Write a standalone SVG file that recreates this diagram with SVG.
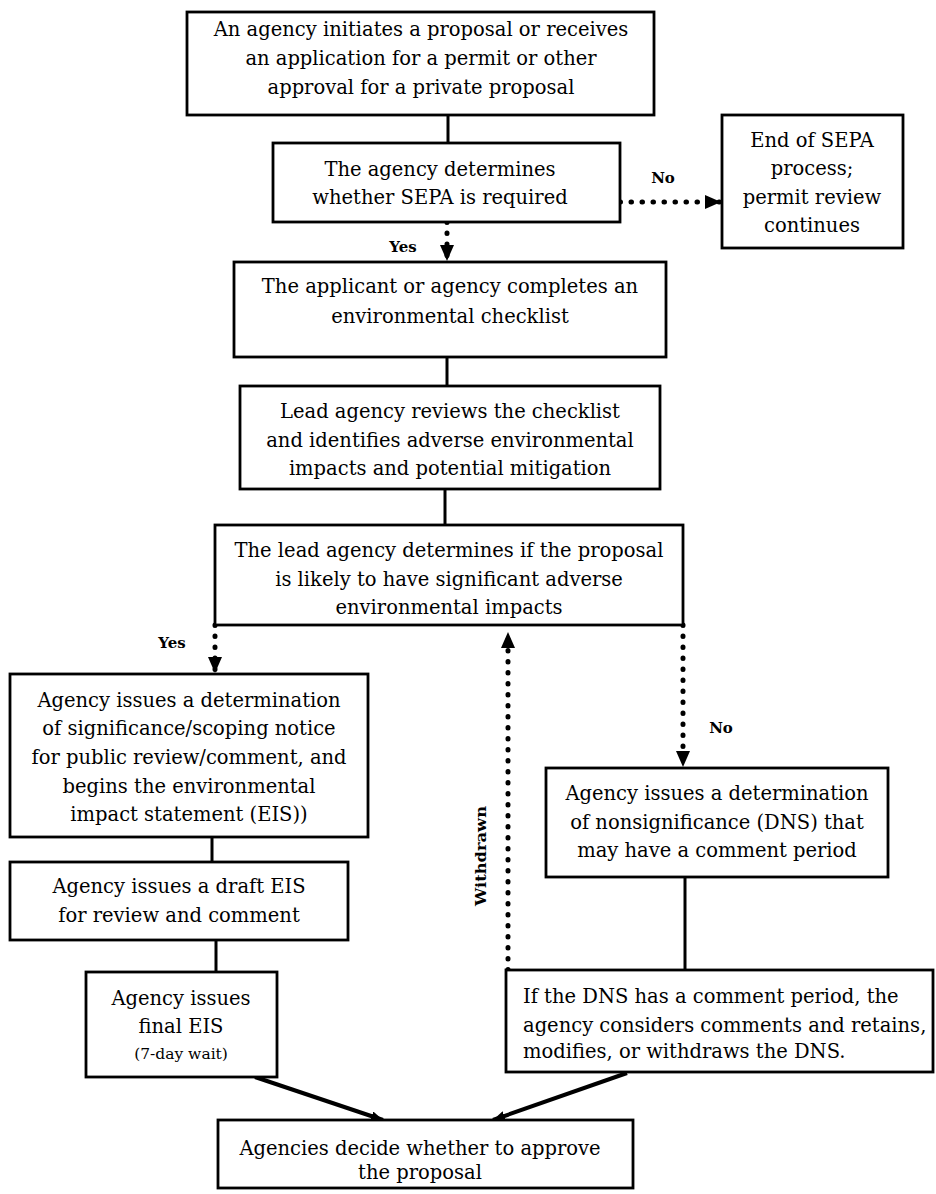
<svg xmlns="http://www.w3.org/2000/svg" width="936" height="1194" viewBox="0 0 936 1194">
<style>
.box{fill:#fff;stroke:#000;stroke-width:2.8}
.t{font-family:"DejaVu Serif","Liberation Serif",serif;font-size:19.5px;fill:#000;text-anchor:middle}
.tl{font-family:"DejaVu Serif","Liberation Serif",serif;font-size:19.5px;fill:#000}
.sm{font-family:"DejaVu Serif","Liberation Serif",serif;font-size:15.5px;fill:#000;text-anchor:middle}
.lab{font-family:"DejaVu Serif","Liberation Serif",serif;font-size:15px;font-weight:bold;fill:#000;text-anchor:middle}
.solid{stroke:#000;stroke-width:3;fill:none}
.dot{stroke:#000;stroke-width:5;stroke-linecap:round;stroke-dasharray:0.5 10.5;fill:none}
.thick{stroke:#000;stroke-width:4;fill:none}
</style>
<defs>
<marker id="arr" viewBox="0 0 16 14" refX="16" refY="7" markerWidth="16" markerHeight="14" orient="auto" markerUnits="userSpaceOnUse"><path d="M0,0 L16,7 L0,14 z" fill="#000"/></marker>
<marker id="arrs" viewBox="0 0 12 10" refX="12" refY="5" markerWidth="12" markerHeight="10" orient="auto" markerUnits="userSpaceOnUse"><path d="M0,0 L12,5 L0,10 z" fill="#000"/></marker>
</defs>
<rect width="936" height="1194" fill="#fff"/>
<g id="connectors">
<line class="solid" x1="448" y1="115" x2="448" y2="143"/>
<line class="dot" x1="620" y1="202" x2="721" y2="202" marker-end="url(#arr)"/>
<line class="dot" x1="447" y1="222" x2="447" y2="261" marker-end="url(#arr)"/>
<line class="solid" x1="447" y1="357" x2="447" y2="386"/>
<line class="solid" x1="445" y1="489" x2="445" y2="525"/>
<line class="dot" x1="215" y1="625" x2="215" y2="673" marker-end="url(#arr)"/>
<line class="dot" x1="683" y1="625" x2="683" y2="767" marker-end="url(#arr)"/>
<line class="dot" x1="508" y1="970" x2="508" y2="632" marker-end="url(#arr)"/>
<line class="solid" x1="685" y1="877" x2="685" y2="970"/>
<line class="solid" x1="212" y1="837" x2="212" y2="862"/>
<line class="solid" x1="216" y1="940" x2="216" y2="972"/>
<line class="thick" x1="255" y1="1077" x2="383" y2="1120" marker-end="url(#arrs)"/>
<line class="thick" x1="627" y1="1073" x2="493" y2="1120" marker-end="url(#arrs)"/>
<text class="lab" x="663" y="183">No</text>
<text class="lab" x="403" y="252">Yes</text>
<text class="lab" x="172" y="648">Yes</text>
<text class="lab" x="721" y="733">No</text>
<text class="lab" transform="translate(486,856) rotate(-90)" x="0" y="0" textLength="100" lengthAdjust="spacingAndGlyphs">Withdrawn</text>
</g>
<g id="n1">
<rect class="box" x="187" y="12" width="467" height="103"/>
<text class="t" x="421" y="36">An agency initiates a proposal or receives</text>
<text class="t" x="421" y="65">an application for a permit or other</text>
<text class="t" x="421" y="94">approval for a private proposal</text>
</g>
<g id="n2">
<rect class="box" x="273" y="143" width="347" height="79"/>
<text class="t" x="440" y="176">The agency determines</text>
<text class="t" x="440" y="204">whether SEPA is required</text>
</g>
<g id="n3">
<rect class="box" x="722" y="115" width="181" height="133"/>
<text class="t" x="812" y="147">End of SEPA</text>
<text class="t" x="812" y="175">process;</text>
<text class="t" x="812" y="204">permit review</text>
<text class="t" x="812" y="232">continues</text>
</g>
<g id="n4">
<rect class="box" x="234" y="262" width="432" height="95"/>
<text class="t" x="450" y="293">The applicant or agency completes an</text>
<text class="t" x="450" y="323">environmental checklist</text>
</g>
<g id="n5">
<rect class="box" x="240" y="386" width="420" height="103"/>
<text class="t" x="450" y="418">Lead agency reviews the checklist</text>
<text class="t" x="450" y="447">and identifies adverse environmental</text>
<text class="t" x="450" y="475">impacts and potential mitigation</text>
</g>
<g id="n6">
<rect class="box" x="215" y="525" width="468" height="100"/>
<text class="t" x="449" y="557">The lead agency determines if the proposal</text>
<text class="t" x="449" y="586">is likely to have significant adverse</text>
<text class="t" x="449" y="614">environmental impacts</text>
</g>
<g id="n7">
<rect class="box" x="10" y="674" width="358" height="163"/>
<text class="t" x="189" y="707">Agency issues a determination</text>
<text class="t" x="189" y="735">of significance/scoping notice</text>
<text class="t" x="189" y="764">for public review/comment, and</text>
<text class="t" x="189" y="793">begins the environmental</text>
<text class="t" x="189" y="821">impact statement (EIS))</text>
</g>
<g id="n8">
<rect class="box" x="546" y="768" width="342" height="109"/>
<text class="t" x="717" y="800">Agency issues a determination</text>
<text class="t" x="717" y="829">of nonsignificance (DNS) that</text>
<text class="t" x="717" y="857">may have a comment period</text>
</g>
<g id="n9">
<rect class="box" x="10" y="862" width="338" height="78"/>
<text class="t" x="179" y="893">Agency issues a draft EIS</text>
<text class="t" x="179" y="922">for review and comment</text>
</g>
<g id="n10">
<rect class="box" x="86" y="972" width="191" height="105"/>
<text class="t" x="181" y="1005">Agency issues</text>
<text class="t" x="181" y="1033">final EIS</text>
<text class="sm" x="181" y="1059">(7-day wait)</text>
</g>
<g id="n11">
<rect class="box" x="506" y="970" width="427" height="102"/>
<text class="tl" x="523" y="1003">If the DNS has a comment period, the</text>
<text class="tl" x="523" y="1032">agency considers comments and retains,</text>
<text class="tl" x="523" y="1058">modifies, or withdraws the DNS.</text>
</g>
<g id="n12">
<rect class="box" x="218" y="1120" width="415" height="68"/>
<text class="t" x="420" y="1155">Agencies decide whether to approve</text>
<text class="t" x="420" y="1179">the proposal</text>
</g>
</svg>
